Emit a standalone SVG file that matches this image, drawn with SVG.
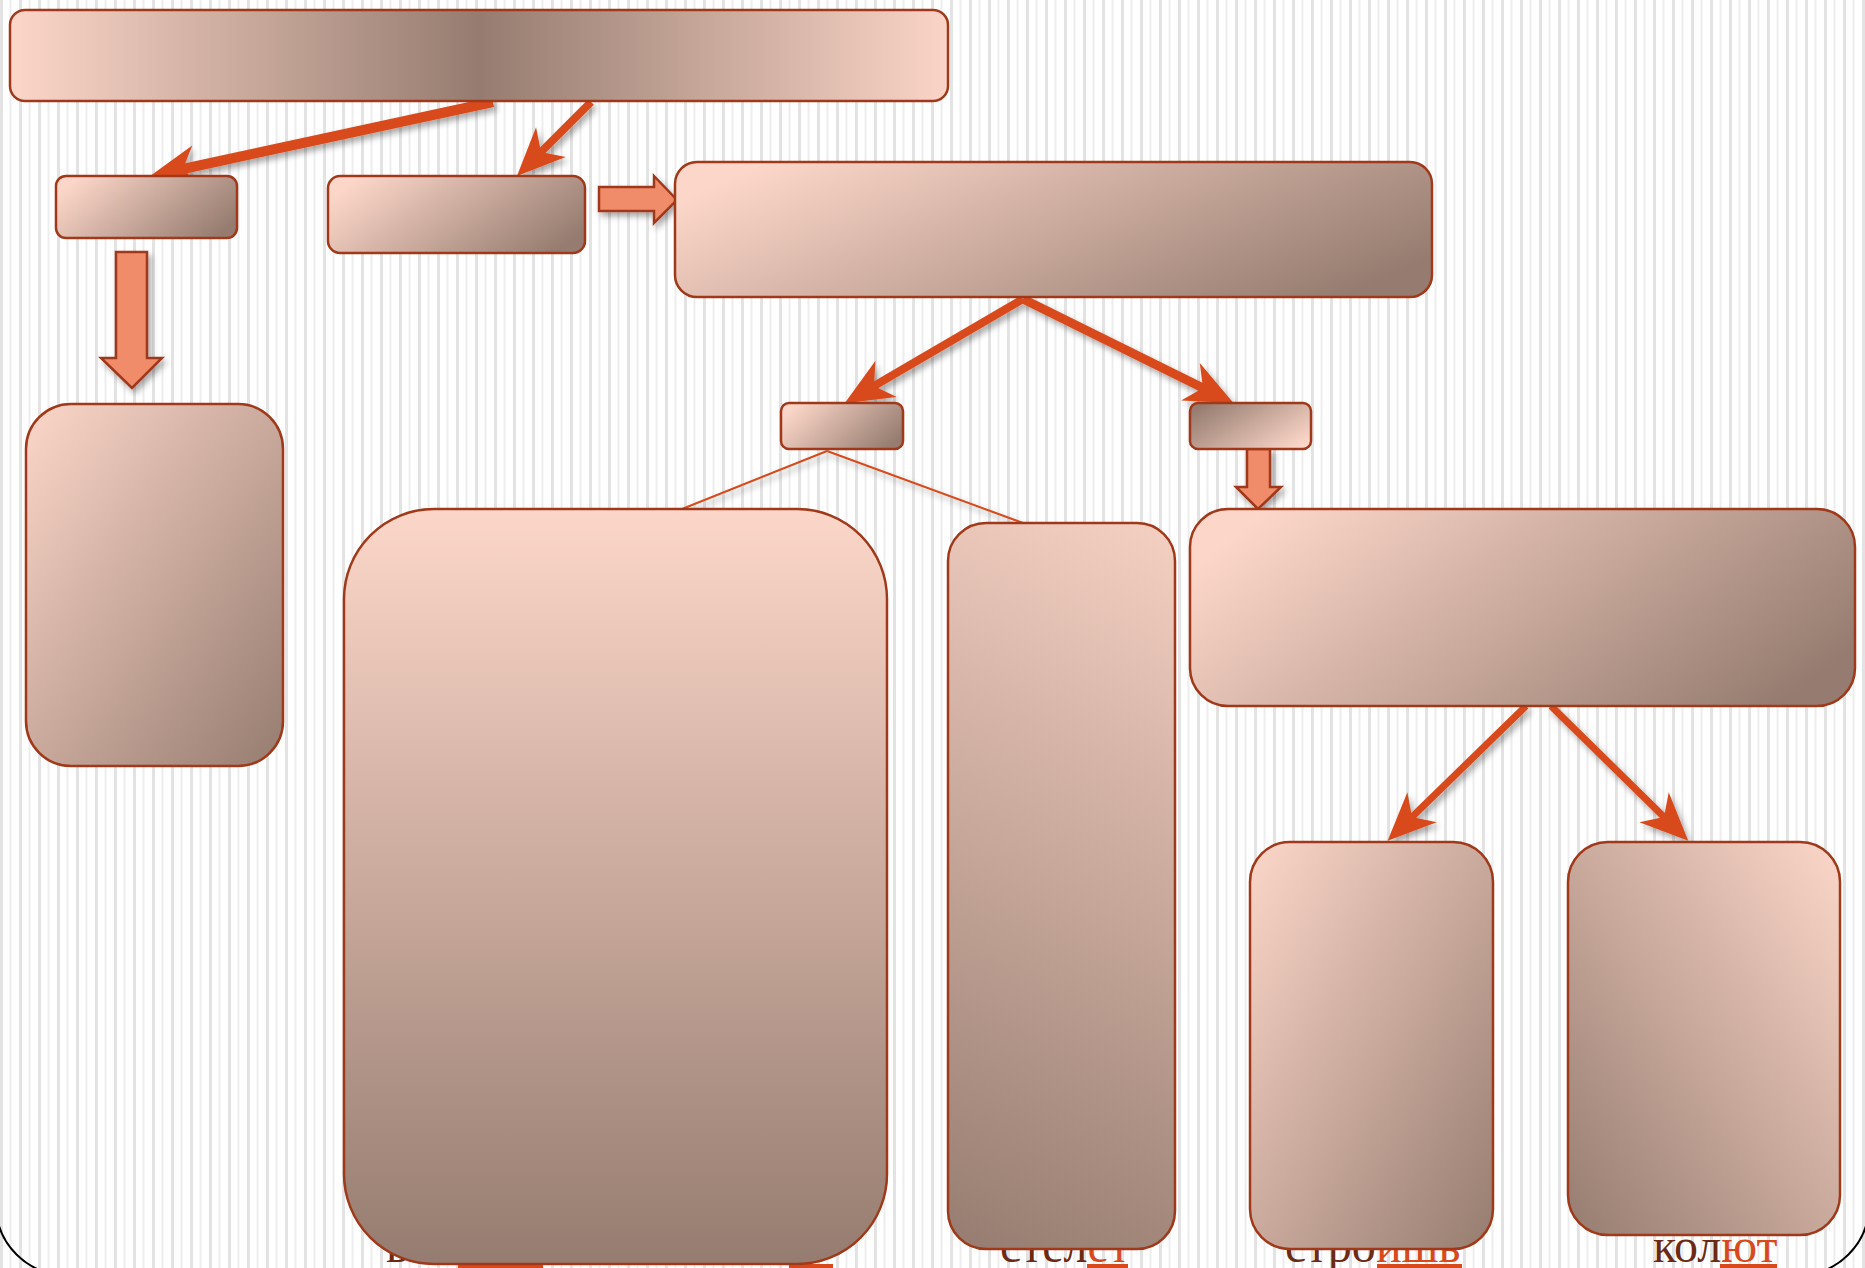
<svg xmlns="http://www.w3.org/2000/svg" width="1865" height="1268" viewBox="0 0 1865 1268">
<defs>
<pattern id="stripes" x="0" y="0" width="19" height="20" patternUnits="userSpaceOnUse">
<rect width="19" height="20" fill="#ffffff"/>
<rect x="0" y="0" width="3" height="20" fill="#e3e3e3"/>
<rect x="9.5" y="0" width="2" height="20" fill="#ededed"/>
</pattern>
<linearGradient id="gTop" x1="0" y1="0" x2="1" y2="0">
<stop offset="0" stop-color="#fcd7c9"/><stop offset="0.5" stop-color="#967c70"/><stop offset="1" stop-color="#fad5c7"/>
</linearGradient>
<linearGradient id="gLR" x1="0" y1="0.3" x2="1" y2="0.7">
<stop offset="0" stop-color="#fcd7c9"/><stop offset="1" stop-color="#967c70"/>
</linearGradient>
<linearGradient id="gRL" x1="0" y1="0.2" x2="1" y2="0.8">
<stop offset="0" stop-color="#967c70"/><stop offset="1" stop-color="#fcd7c9"/>
</linearGradient>
<linearGradient id="gTB" x1="0" y1="0" x2="0" y2="1">
<stop offset="0" stop-color="#fcd7c9"/><stop offset="1" stop-color="#967c70"/>
</linearGradient>
<linearGradient id="gTLBR" x1="0" y1="0" x2="1" y2="1">
<stop offset="0" stop-color="#fcd7c9"/><stop offset="1" stop-color="#967c70"/>
</linearGradient>
<linearGradient id="gTRBL" x1="1" y1="0" x2="0" y2="1">
<stop offset="0" stop-color="#fcd7c9"/><stop offset="1" stop-color="#967c70"/>
</linearGradient>
<linearGradient id="gH" gradientUnits="userSpaceOnUse" x1="1230" y1="480" x2="900" y2="1230">
<stop offset="0" stop-color="#fcd7c9"/><stop offset="1" stop-color="#967c70"/>
</linearGradient>
<filter id="shadow" x="-20%" y="-20%" width="140%" height="140%">
<feDropShadow dx="3" dy="4" stdDeviation="3" flood-color="#000000" flood-opacity="0.35"/>
</filter>
<marker id="barb" viewBox="-20 -25 60 50" markerWidth="60" markerHeight="50" refX="0" refY="0" orient="auto" markerUnits="userSpaceOnUse">
<path d="M0,0 L-14,-21 L34,0 L-14,21 Z" fill="#d84a1b"/>
</marker>
</defs>
<style>
.box{stroke:#a0391a;stroke-width:2.5}
.conn{stroke:#d84a1b;fill:none;stroke-width:8;marker-end:url(#barb)}
.thin{stroke:#d84a1b;fill:none;stroke-width:2}
.block{fill:#f08c6a;stroke:#a0391a;stroke-width:2.5;stroke-linejoin:miter}
.word{font-family:"Liberation Serif","Times New Roman",serif;font-size:48px;fill:#6b2a14}
.end{fill:#d84a1b}
.ul{fill:#d84a1b}
</style>
<rect x="0" y="0" width="1865" height="1268" fill="url(#stripes)"/>
<rect x="-4" y="-120" width="1873" height="1395" rx="70" ry="70" fill="none" stroke="#000000" stroke-width="2"/>

<g id="labels">
<text class="word" x="386" y="1262">в</text>
<rect class="ul" x="458" y="1264" width="85" height="5"/>
<rect class="ul" x="789" y="1264" width="44" height="5"/>
<text class="word" x="1000" y="1262">стел<tspan class="end">ет</tspan></text>
<rect class="ul" x="1087" y="1264" width="41" height="5"/>
<text class="word" x="1285" y="1262">стро<tspan class="end">ишь</tspan></text>
<rect class="ul" x="1377" y="1264" width="85" height="5"/>
<text class="word" x="1653" y="1262">кол<tspan class="end">ют</tspan></text>
<rect class="ul" x="1720" y="1264" width="57" height="5"/>
</g>

<g id="connectors" filter="url(#shadow)">
<path class="conn" style="stroke-width:10" d="M493,102 L183,169"/>
<path class="conn" d="M591,102 L541,152"/>
<path class="conn" d="M1023,299 L874,386"/>
<path class="conn" style="stroke-width:9" d="M1023,299 L1203,388"/>
<path class="conn" style="stroke-width:7" d="M1526,706 L1412,817"/>
<path class="conn" style="stroke-width:7" d="M1551,706 L1664,817"/>
<path class="thin" d="M827,451 L682,509"/>
<path class="thin" d="M827,451 L1023,523"/>
<polygon class="block" points="599,187 654,187 654,176 677,200 654,223 654,211 599,211"/>
<polygon class="block" points="116,252 147,252 147,358 162,358 132,388 101,358 116,358"/>
<polygon class="block" points="1247,449 1270,449 1270,487 1281,487 1258,509 1236,487 1247,487"/>
</g>

<g id="node-top"><rect class="box" x="10" y="10" width="938" height="91" rx="15" fill="url(#gTop)"/></g>
<g id="node-a"><rect class="box" x="56" y="176" width="181" height="62" rx="10" fill="url(#gLR)"/></g>
<g id="node-b"><rect class="box" x="328" y="176" width="257" height="77" rx="12" fill="url(#gLR)"/></g>
<g id="node-c"><rect class="box" x="675" y="162" width="757" height="135" rx="22" fill="url(#gLR)"/></g>
<g id="node-d"><rect class="box" x="26" y="404" width="257" height="362" rx="45" fill="url(#gTLBR)"/></g>
<g id="node-e"><rect class="box" x="781" y="403" width="122" height="46" rx="8" fill="url(#gLR)"/></g>
<g id="node-f"><rect class="box" x="1190" y="403" width="121" height="46" rx="8" fill="url(#gRL)"/></g>
<g id="node-g"><rect class="box" x="344" y="509" width="543" height="755" rx="90" fill="url(#gTB)"/></g>
<g id="node-h"><rect class="box" x="948" y="523" width="227" height="726" rx="38" fill="url(#gH)"/></g>
<g id="node-i"><rect class="box" x="1190" y="509" width="665" height="197" rx="38" fill="url(#gLR)"/></g>
<g id="node-j"><rect class="box" x="1250" y="842" width="243" height="407" rx="40" fill="url(#gTLBR)"/></g>
<g id="node-k"><rect class="box" x="1568" y="842" width="272" height="393" rx="40" fill="url(#gTRBL)"/></g>
</svg>
